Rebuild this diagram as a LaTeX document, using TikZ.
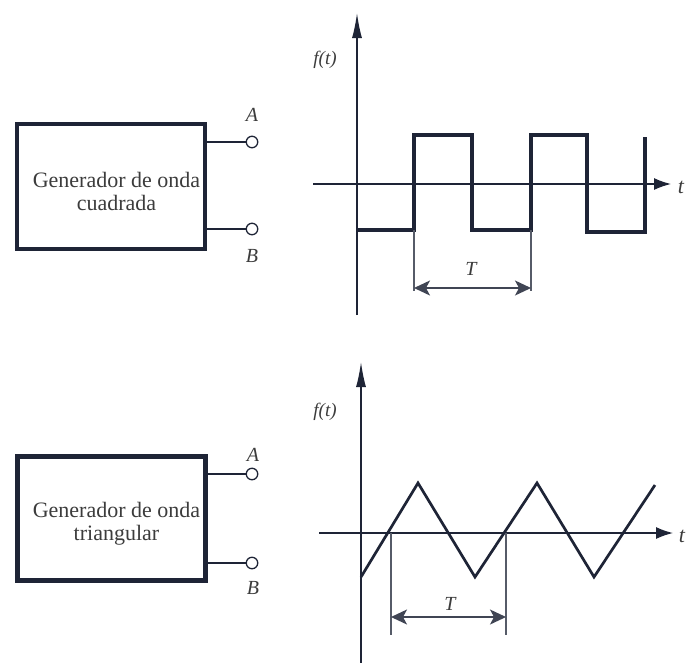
\documentclass[tikz,border=0pt]{standalone}
\usepackage{fontspec}
\setmainfont{Liberation Serif}
\usetikzlibrary{arrows.meta}
\definecolor{ink}{HTML}{1E2436}
\definecolor{txt}{HTML}{3C3C3C}
\begin{document}
\begin{tikzpicture}[x=1pt,y=-1pt,
  genbox/.style={draw=ink,line width=4.8pt,minimum width=188pt,minimum height=125pt,inner sep=0pt},
  gentext/.style={text=txt,font=\fontsize{22}{23}\selectfont,inner sep=0pt,anchor=base},
  term/.style={circle,draw=ink,line width=1.3pt,minimum size=11.5pt,inner sep=0pt,fill=white},
  lead/.style={draw=ink,line width=1.3pt},
  lbl/.style={text=txt,font=\fontsize{20}{20}\selectfont\itshape,inner sep=0pt},
  flbl/.style={text=txt,font=\fontsize{19}{19}\selectfont\itshape,inner sep=0pt},
  tlbl/.style={text=txt,font=\fontsize{22}{22}\selectfont\itshape,inner sep=0pt},
  yaxis/.style={draw=ink,line width=1.4pt,-{Latex[length=25pt,width=10pt]}},
  xaxis/.style={draw=ink,line width=1.4pt,-{Latex[length=17pt,width=12pt]}},
  sq/.style={draw=ink,line width=3.2pt,line join=miter},
  tri/.style={draw=ink,line width=2.7pt,line join=miter},
  ext/.style={draw=ink!75,line width=1.2pt},
  dim/.style={draw=ink!85,line width=1.4pt,{Stealth[length=16pt,width=15pt,inset=4pt]}-{Stealth[length=16pt,width=15pt,inset=4pt]}},
]
\useasboundingbox (0,0) rectangle (687,662);
\fill[white] (0,0) rectangle (687,662);

% ---------- top panel: square wave ----------
\node[genbox] (box1) at (111,186.5) {};
\node[gentext] (txt1a) at (116.5,187) {Generador de onda};
\node[gentext] (txt1b) at (116.5,210) {cuadrada};
\node[term] (A1) at (252,142) {};
\node[term] (B1) at (252,229) {};
\draw[lead] (box1.east |- A1) -- (A1.west);
\draw[lead] (box1.east |- B1) -- (B1.west);
\node[lbl] (LA1) at (252,115) {A};
\node[lbl] (LB1) at (252,256) {B};

\coordinate (y1b) at (357,315);
\coordinate (y1t) at (357,13);
\draw[yaxis] (y1b) -- (y1t);
\coordinate (x1l) at (313,184);
\coordinate (x1r) at (671,184);
\draw[xaxis] (x1l) -- (x1r);
\node[flbl] (f1) at (325,60) {f(t)};
\node[tlbl] (t1) at (681,187) {t};

\coordinate (s0) at (357,230);
\coordinate (s1) at (414,230);
\coordinate (s2) at (414,135);
\coordinate (s3) at (472,135);
\coordinate (s4) at (472,230);
\coordinate (s5) at (531,230);
\coordinate (s6) at (531,135);
\coordinate (s7) at (587,135);
\coordinate (s8) at (587,232);
\coordinate (s9) at (645,232);
\coordinate (s10) at (645,137);
\draw[sq] (s0) -- (s1) -- (s2) -- (s3) -- (s4) -- (s5) -- (s6) -- (s7) -- (s8) -- (s9) -- (s10);

\coordinate (e1a) at (414,291);
\coordinate (e1b) at (531,291);
\draw[ext] (s1) -- (e1a);
\draw[ext] (s5) -- (e1b);
\coordinate (d1a) at (414,288);
\coordinate (d1b) at (531,288);
\draw[dim] (d1a) -- (d1b);
\node[lbl] (T1) at (471,269) {T};

% ---------- bottom panel: triangular wave ----------
\node[genbox,minimum height=123.5pt] (box2) at (111.5,518.5) {};
\node[gentext] (txt2a) at (116.5,517) {Generador de onda};
\node[gentext] (txt2b) at (116.5,540) {triangular};
\node[term] (A2) at (252,474) {};
\node[term] (B2) at (252,563) {};
\draw[lead] (box2.east |- A2) -- (A2.west);
\draw[lead] (box2.east |- B2) -- (B2.west);
\node[lbl] (LA2) at (253,455) {A};
\node[lbl] (LB2) at (253,588) {B};

\coordinate (y2b) at (361,665);
\coordinate (y2t) at (361,362);
\draw[yaxis] (y2b) -- (y2t);
\coordinate (x2l) at (319,533);
\coordinate (x2r) at (673,533);
\draw[xaxis] (x2l) -- (x2r);
\node[flbl] (f2) at (325,412) {f(t)};
\node[tlbl] (t2) at (682,536) {t};

\coordinate (w0) at (361,577);
\coordinate (w1) at (418,483);
\coordinate (w2) at (475,577);
\coordinate (w3) at (537,483);
\coordinate (w4) at (594,577);
\coordinate (w5) at (655,485);
\draw[tri] (w0) -- (w1) -- (w2) -- (w3) -- (w4) -- (w5);

\coordinate (z1) at (391,533);
\coordinate (z2) at (506,533);
\coordinate (e2a) at (391,635);
\coordinate (e2b) at (506,635);
\draw[ext] (z1) -- (e2a);
\draw[ext] (z2) -- (e2b);
\coordinate (d2a) at (391,617);
\coordinate (d2b) at (506,617);
\draw[dim] (d2a) -- (d2b);
\node[lbl] (T2) at (450,604) {T};
\end{tikzpicture}
\end{document}
